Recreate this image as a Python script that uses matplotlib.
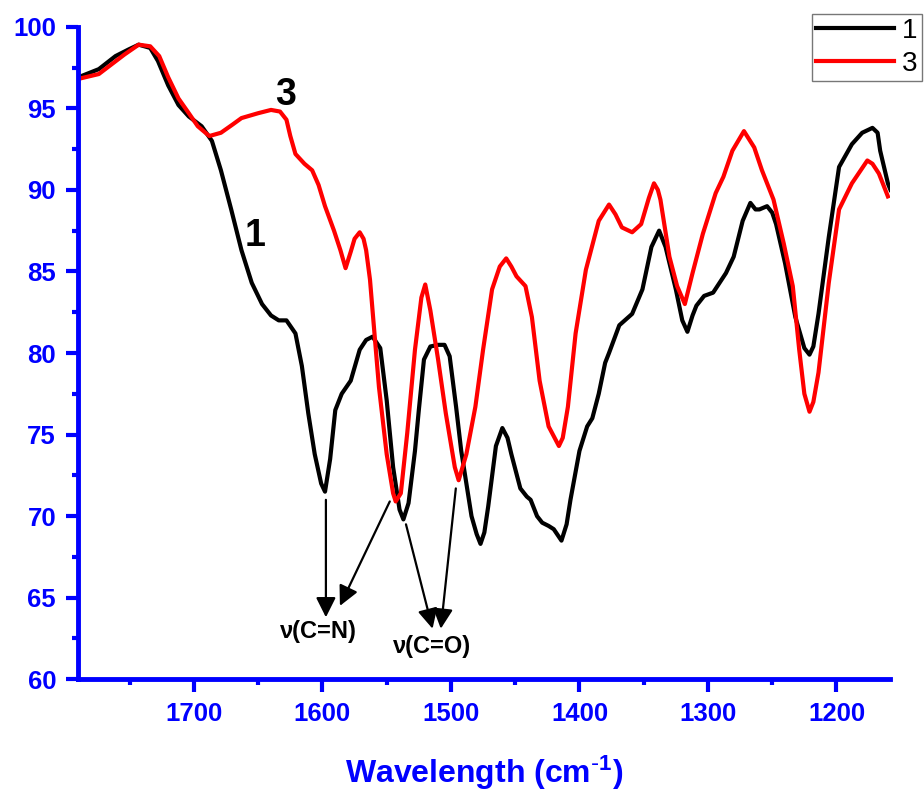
import numpy as np
import matplotlib
matplotlib.use('Agg')
import matplotlib.pyplot as plt

plt.rcParams['font.family'] = ['Liberation Sans', 'DejaVu Sans']
plt.rcParams['mathtext.default'] = 'regular'

# IR spectrum of compound 1 (wavenumber, transmittance)
wn_1 = [1790, 1774, 1761, 1751, 1743, 1734, 1728, 1720, 1712, 1704, 1694, 1686,
        1679, 1671, 1663, 1655, 1647, 1640, 1634, 1628, 1621, 1616, 1611, 1606,
        1601, 1598, 1594, 1590, 1585, 1578, 1571, 1566, 1561, 1555, 1550, 1545,
        1540, 1537, 1533, 1528, 1525, 1521, 1516, 1510, 1505, 1501, 1496, 1492,
        1488, 1484, 1480, 1477, 1474, 1471, 1465, 1460, 1456, 1453, 1446, 1441,
        1438, 1433, 1429, 1424, 1420, 1414, 1410, 1407, 1400, 1394, 1390, 1385,
        1380, 1377, 1369, 1359, 1351, 1344, 1338, 1333, 1325, 1320, 1316, 1312,
        1309, 1303, 1296, 1286, 1280, 1273, 1267, 1263, 1260, 1254, 1250, 1247,
        1240, 1232, 1225, 1221, 1218, 1214, 1206, 1198, 1188, 1180, 1172, 1168,
        1166, 1160, 1158]
T_1 = [96.9, 97.4, 98.2, 98.6, 98.9, 98.7, 97.9, 96.4, 95.2, 94.5, 93.9, 93.0,
       91.2, 88.8, 86.3, 84.3, 83.0, 82.3, 82.0, 82.0, 81.2, 79.2, 76.3, 73.8,
       72.0, 71.5, 73.5, 76.5, 77.5, 78.3, 80.2, 80.8, 81.0, 80.3, 77.1, 73.0,
       70.4, 69.8, 70.8, 74.0, 76.5, 79.6, 80.4, 80.5, 80.5, 79.8, 76.7, 74.0,
       72.0, 70.0, 68.9, 68.3, 69.0, 70.6, 74.3, 75.4, 74.8, 73.8, 71.7, 71.2,
       71.0, 70.0, 69.6, 69.4, 69.2, 68.5, 69.5, 71.0, 74.0, 75.5, 76.0, 77.5,
       79.4, 80.0, 81.7, 82.4, 83.9, 86.5, 87.5, 86.5, 83.9, 82.0, 81.3, 82.3,
       82.9, 83.5, 83.7, 84.9, 85.9, 88.1, 89.2, 88.8, 88.8, 89.0, 88.6, 87.9,
       85.5, 82.2, 80.3, 79.9, 80.4, 82.4, 87.1, 91.4, 92.8, 93.5, 93.8, 93.5,
       92.4, 90.4, 90.0]

# IR spectrum of compound 3
wn_3 = [1790, 1774, 1764, 1754, 1743, 1734, 1727, 1720, 1712, 1704, 1697, 1688,
        1679, 1670, 1663, 1650, 1640, 1633, 1628, 1625, 1621, 1614, 1608, 1603,
        1598, 1591, 1586, 1582, 1578, 1575, 1571, 1568, 1566, 1563, 1561, 1556,
        1550, 1545, 1543, 1539, 1534, 1528, 1523, 1520, 1516, 1510, 1504, 1497,
        1494, 1488, 1481, 1475, 1468, 1462, 1457, 1453, 1449, 1442, 1437, 1431,
        1424, 1416, 1413, 1409, 1403, 1395, 1385, 1377, 1372, 1367, 1359, 1352,
        1346, 1342, 1339, 1337, 1330, 1324, 1318, 1312, 1304, 1294, 1288, 1281,
        1272, 1264, 1258, 1249, 1241, 1234, 1229, 1225, 1221, 1218, 1214, 1206,
        1198, 1188, 1176, 1172, 1167, 1160]
T_3 = [96.8, 97.1, 97.7, 98.3, 98.9, 98.8, 98.2, 96.9, 95.6, 94.7, 93.9, 93.3,
       93.5, 94.0, 94.4, 94.7, 94.9, 94.8, 94.3, 93.3, 92.2, 91.6, 91.2, 90.3,
       89.0, 87.5, 86.3, 85.2, 86.2, 87.0, 87.4, 87.0, 86.3, 84.5, 82.6, 77.9,
       73.8, 71.4, 70.9, 71.4, 75.1, 80.2, 83.4, 84.2, 82.6, 79.6, 76.3, 73.0,
       72.2, 73.8, 76.7, 80.2, 83.9, 85.3, 85.8, 85.3, 84.7, 84.1, 82.2, 78.3,
       75.5, 74.3, 74.8, 76.7, 81.2, 85.1, 88.1, 89.1, 88.5, 87.7, 87.4, 87.9,
       89.5, 90.4, 90.0, 89.4, 85.9, 84.1, 83.0, 84.9, 87.3, 89.8, 90.8, 92.4,
       93.6, 92.6, 91.2, 89.4, 86.7, 84.1, 80.2, 77.5, 76.4, 77.0, 78.8, 84.3,
       88.8, 90.4, 91.8, 91.6, 91.0, 89.6]

blue = '#0000ff'

fig = plt.figure(figsize=(9.24, 7.93), dpi=100)
ax = fig.add_axes([0.0847, 0.1434, 0.879, 0.8229])

ax.plot(wn_1, T_1, color='black', lw=3, label='1', solid_joinstyle='round')
ax.plot(wn_3, T_3, color='red', lw=3, label='3', solid_joinstyle='round')

ax.set_xlim(1790, 1158)
ax.set_ylim(60, 100)
ax.set_xticks([1700, 1600, 1500, 1400, 1300, 1200])
ax.set_xticks(np.arange(1750, 1150, -100), minor=True)
ax.set_yticks(np.arange(60, 101, 5))
ax.set_yticks(np.arange(62.5, 100, 5), minor=True)

for s in ['top', 'right']:
    ax.spines[s].set_visible(False)
for s in ['left', 'bottom']:
    ax.spines[s].set_color(blue)
    ax.spines[s].set_linewidth(3.5)
ax.tick_params(which='major', direction='out', length=9, width=3, color=blue,
               labelcolor=blue, labelsize=18.5, pad=7)
ax.tick_params(which='minor', direction='out', length=4.5, width=3, color=blue)
for lab in ax.get_xticklabels() + ax.get_yticklabels():
    lab.set_fontweight('bold')

ax.set_xlabel(r'Wavelength (cm$^{\text{-}1}$)', color=blue, fontsize=23,
              fontweight='bold', labelpad=20)

# curve labels
ax.text(1628.6, 95.8, '3', fontsize=27, fontweight='bold', ha='center', va='center')
ax.text(1652.7, 87.2, '1', fontsize=27, fontweight='bold', ha='center', va='center')

# band assignments
arw = dict(arrowstyle='-|>', color='black', lw=1.6, mutation_scale=30,
           shrinkA=0, shrinkB=0)
ax.annotate('', xy=(1597.3, 63.8), xytext=(1597.3, 71.0), arrowprops=arw)
ax.annotate('', xy=(1586.4, 64.5), xytext=(1547.6, 70.9), arrowprops=arw)
ax.annotate('', xy=(1514.3, 63.1), xytext=(1535.0, 69.5), arrowprops=arw)
ax.annotate('', xy=(1507.9, 63.1), xytext=(1496.2, 71.7), arrowprops=arw)
ax.text(1603.3, 62.9, 'ν(C=N)', fontsize=17, fontweight='bold', ha='center', va='center')
ax.text(1514.7, 62.0, 'ν(C=O)', fontsize=17, fontweight='bold', ha='center', va='center')

leg = ax.legend(loc='upper left', bbox_to_anchor=(812 / 924, 1 - 14 / 793),
                bbox_transform=fig.transFigure, fontsize=20, frameon=True,
                fancybox=False, edgecolor='#555555', handlelength=2.8,
                handletextpad=0.3, borderpad=0.15, labelspacing=0.25,
                borderaxespad=0)
leg.get_frame().set_linewidth(1.0)

fig.savefig('out.png', dpi=100)
